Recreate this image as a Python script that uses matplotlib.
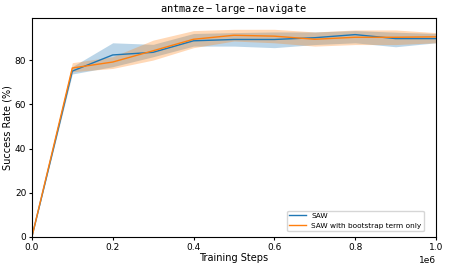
import matplotlib.pyplot as plt
import numpy as np

steps = np.array([0, 0.1, 0.2, 0.3, 0.4, 0.5, 0.6, 0.7, 0.8, 0.9, 1.0]) * 1e6

saw_mean = [0, 75.0, 82.3, 83.5, 88.7, 89.3, 89.3, 90.1, 91.5, 89.7, 89.7]
saw_low = [0, 73.7, 77.0, 81.5, 86.3, 86.3, 85.6, 87.0, 87.8, 86.0, 87.8]
saw_high = [0, 77.0, 87.8, 87.1, 92.0, 92.4, 92.7, 92.7, 93.3, 92.6, 92.0]

boot_mean = [0, 76.4, 79.1, 84.2, 89.4, 91.2, 90.8, 89.4, 90.3, 90.3, 90.5]
boot_low = [0, 74.7, 76.2, 80.0, 85.6, 88.6, 87.8, 86.3, 87.0, 87.0, 87.8]
boot_high = [0, 78.8, 81.5, 89.0, 93.3, 93.9, 93.9, 92.7, 93.6, 93.6, 92.4]

fig = plt.figure(figsize=(4.49, 2.69), dpi=100)
ax = fig.add_axes([0.071, 0.119, 0.9, 0.814])

ax.plot(steps, saw_mean, color="C0", lw=1, label="SAW")
ax.fill_between(steps, saw_low, saw_high, color="C0", alpha=0.3, lw=0)
ax.plot(steps, boot_mean, color="C1", lw=1, label="SAW with bootstrap term only")
ax.fill_between(steps, boot_low, boot_high, color="C1", alpha=0.3, lw=0)

ax.set_xlim(0, 1e6)
ax.set_ylim(0, 99)
ax.set_title(r"$\mathtt{antmaze-large-navigate}$", fontsize=7.5, pad=4)
ax.set_xlabel("Training Steps", fontsize=7, labelpad=1)
ax.set_ylabel("Success Rate (%)", fontsize=7, labelpad=2)
ax.tick_params(labelsize=6.5, length=2.5, pad=1.5)
ax.xaxis.get_offset_text().set_fontsize(6.5)
ax.legend(loc="lower right", bbox_to_anchor=(0.97, 0.027), borderaxespad=0,
          fontsize=5.3, labelspacing=0.5, borderpad=0.3, handlelength=2.2)

fig.savefig("out.png", dpi=100)
